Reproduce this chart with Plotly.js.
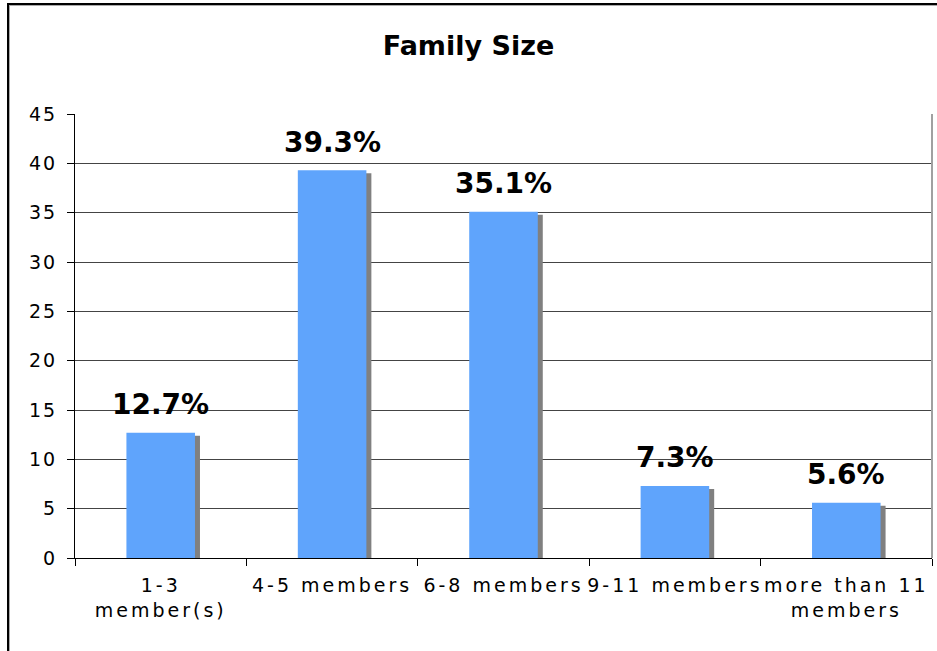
<!DOCTYPE html>
<html>
<head>
<meta charset="utf-8">
<script src="https://cdn.plot.ly/plotly-3.0.1.min.js"></script>
<style>
  html, body { margin: 0; padding: 0; background: #fff; overflow: hidden; }
  #wrap { position: relative; width: 937px; height: 651px; }
  #chart { width: 937px; height: 651px; }
  #frame { position: absolute; left: 7px; top: 3px; width: 1000px; height: 700px;
           border-left: 2px solid #000; border-top: 2px solid #000; pointer-events: none; }
  #frame2 { position: absolute; left: 0; top: 0; width: 1000px; height: 700px;
            border-left: 1px solid #aaa; border-top: 1px solid #aaa; }
  .xtick text { letter-spacing: 3px; }
  .ytick text { letter-spacing: 2px; }
</style>
</head>
<body>
<div id="wrap">
  <div id="chart"></div>
  <div id="frame"><div id="frame2"></div></div>
</div>
<script>
const categories = ["1-3<br>member(s)", "4-5 members", "6-8 members", "9-11 members", "more than 11<br>members"];
const values = [12.7, 39.3, 35.1, 7.3, 5.6];
const labels = ["12.7%", "39.3%", "35.1%", "7.3%", "5.6%"];
const yTicks = [0, 5, 10, 15, 20, 25, 30, 35, 40, 45];

const FONT = "DejaVu Sans, Verdana, sans-serif";
const barWidth = 0.4;
const shadowDx = 5 / 171.4;   // shadow shift in category units (~5px)
const shadowDy = 0.3;         // shadow drop in value units (~3px)

const shadow = {
  type: "bar",
  x: categories,
  y: values.map(v => v - shadowDy),
  width: barWidth,
  offset: -barWidth / 2 + shadowDx,
  marker: { color: "#808080", line: { width: 0 } },
  hoverinfo: "skip",
  showlegend: false
};
const bars = {
  type: "bar",
  x: categories,
  y: values,
  width: barWidth,
  offset: -barWidth / 2,
  marker: { color: "#5FA4FC", line: { width: 0 } },
  showlegend: false
};

const annotations = categories.map((c, i) => ({
  x: c, y: values[i], xref: "x", yref: "y",
  text: "<b>" + labels[i] + "</b>",
  showarrow: false, yanchor: "middle", yshift: 28,
  font: { family: FONT, size: 28, color: "#000" }
}));

const layout = {
  width: 937, height: 651,
  margin: { l: 75, r: 5, t: 114, b: 93, pad: 0 },
  paper_bgcolor: "#fff", plot_bgcolor: "#fff",
  barmode: "overlay",
  bargap: 0.6,
  title: { text: "<b>Family Size</b>", x: 0.5, xref: "container", xanchor: "center",
           y: 1 - 46 / 651, yanchor: "middle",
           font: { family: FONT, size: 27, color: "#000" } },
  xaxis: {
    type: "category",
    tickson: "boundaries",
    ticks: "outside", ticklen: 7, tickcolor: "#000", tickwidth: 1,
    ticklabelstandoff: 10,
    showline: true, linecolor: "#000", linewidth: 1,
    showgrid: false,
    tickfont: { family: FONT, size: 19, color: "#000" },
    range: [-0.5, 4.5]
  },
  yaxis: {
    range: [0, 45],
    tickvals: yTicks,
    ticktext: yTicks.map(String),
    ticks: "outside", ticklen: 7, tickcolor: "#000", tickwidth: 1,
    ticklabelstandoff: 6,
    showline: true, linecolor: "#000", linewidth: 1,
    showgrid: true, gridcolor: "#444444", gridwidth: 1,
    zeroline: false,
    tickfont: { family: FONT, size: 19, color: "#000" }
  },
  shapes: [
    { type: "line", xref: "paper", yref: "paper", x0: 1, x1: 1, y0: 0, y1: 1,
      line: { color: "#a0a0a0", width: 2 } }
  ],
  annotations: annotations
};

Plotly.newPlot("chart", [shadow, bars], layout, { displayModeBar: false, staticPlot: true });
</script>
</body>
</html>
